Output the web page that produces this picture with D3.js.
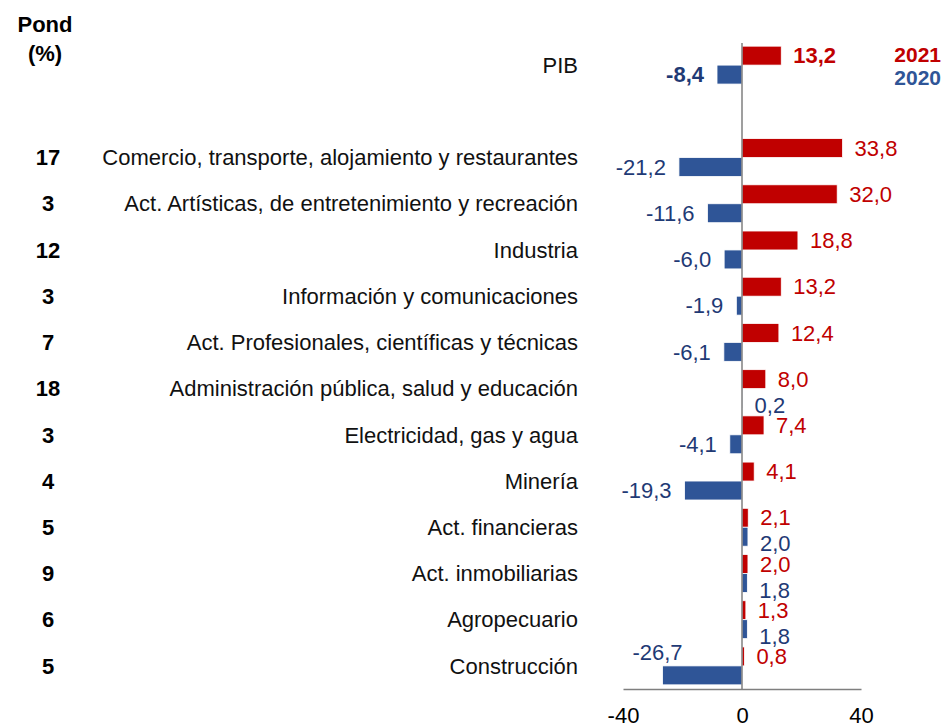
<!DOCTYPE html>
<html>
<head>
<meta charset="utf-8">
<script src="https://cdn.jsdelivr.net/npm/d3@7"></script>
<style>
  body { margin: 0; background: #fff; }
  svg { font-family: "Liberation Sans", Arial, sans-serif; }
</style>
</head>
<body>
<svg width="950" height="728"></svg>
<script>
const categories = [
    "PIB",
    "Comercio, transporte, alojamiento y restaurantes",
    "Act. Artísticas, de entretenimiento y recreación",
    "Industria",
    "Información y comunicaciones",
    "Act. Profesionales, científicas y técnicas",
    "Administración pública, salud y educación",
    "Electricidad, gas y agua",
    "Minería",
    "Act. financieras",
    "Act. inmobiliarias",
    "Agropecuario",
    "Construcción"
];
const weights = [null, 17, 3, 12, 3, 7, 18, 3, 4, 5, 9, 6, 5];
const values2021 = [13.2, 33.8, 32.0, 18.8, 13.2, 12.4, 8.0, 7.4, 4.1, 2.1, 2.0, 1.3, 0.8];
const values2020 = [-8.4, -21.2, -11.6, -6.0, -1.9, -6.1, 0.2, -4.1, -19.3, 2.0, 1.8, 1.8, -26.7];
const xTicks = [-40, 0, 40];

const red = "#C00000";
const blue = "#2F5597";
const navy = "#1F3A75";

const svg = d3.select("svg");
const locale = d3.formatLocale({ decimal: ",", thousands: ".", grouping: [3], currency: ["", ""], minus: "-" });
const fmt = locale.format(".1f");

// band slots: PIB, an empty gap, then the sectors
const slots = [categories[0], "__gap__", ...categories.slice(1)];

const x = d3.scaleLinear().domain([-40, 40]).range([623, 861]);
const y = d3.scaleBand().domain(slots).range([42, 689])
    .paddingInner(0.18).paddingOuter(0.09);
const sub = d3.scaleBand().domain(["2021", "2020"]).range([0, y.bandwidth()]);

const rows = categories.map((c, i) => ({
    cat: c, w: weights[i], v21: values2021[i], v20: values2020[i], pib: i === 0
}));

// header
svg.append("text").attr("x", 45).attr("y", 32).attr("text-anchor", "middle")
    .attr("font-size", 22).attr("font-weight", "bold").text("Pond");
svg.append("text").attr("x", 45).attr("y", 61).attr("text-anchor", "middle")
    .attr("font-size", 22).attr("font-weight", "bold").text("(%)");

// legend
svg.append("text").attr("x", 941).attr("y", 62).attr("text-anchor", "end")
    .attr("font-size", 21).attr("font-weight", "bold").attr("fill", red).text("2021");
svg.append("text").attr("x", 941).attr("y", 85).attr("text-anchor", "end")
    .attr("font-size", 21).attr("font-weight", "bold").attr("fill", blue).text("2020");

const mid = d => y(d.cat) + y.bandwidth() / 2;

// weights & category labels
svg.selectAll(".pond").data(rows.filter(d => d.w != null)).enter()
    .append("text")
    .attr("x", 48).attr("y", mid).attr("dy", "0.35em")
    .attr("text-anchor", "middle").attr("font-size", 22).attr("font-weight", "bold")
    .text(d => d.w);

svg.selectAll(".cat").data(rows).enter()
    .append("text")
    .attr("x", 578).attr("y", mid).attr("dy", "0.35em")
    .attr("text-anchor", "end").attr("font-size", 22).attr("fill", "#111")
    .text(d => d.cat);

// bars
const g = svg.append("g");
g.selectAll(".b21").data(rows).enter().append("rect")
    .attr("x", d => x(Math.min(0, d.v21)))
    .attr("y", d => y(d.cat) + sub("2021"))
    .attr("width", d => Math.abs(x(d.v21) - x(0)))
    .attr("height", sub.bandwidth())
    .attr("fill", red).attr("stroke", "#fff").attr("stroke-width", 0.8);

g.selectAll(".b20").data(rows).enter().append("rect")
    .attr("x", d => x(Math.min(0, d.v20)))
    .attr("y", d => y(d.cat) + sub("2020"))
    .attr("width", d => Math.abs(x(d.v20) - x(0)))
    .attr("height", sub.bandwidth())
    .attr("fill", blue).attr("stroke", "#fff").attr("stroke-width", 0.8);

// value labels
const half = sub.bandwidth() / 2;
svg.selectAll(".l21").data(rows).enter().append("text")
    .attr("x", d => d.v21 >= 0 ? x(d.v21) + 12 : x(d.v21) - 13)
    .attr("y", d => y(d.cat) + sub("2021") + half)
    .attr("dy", "0.35em")
    .attr("text-anchor", d => d.v21 >= 0 ? "start" : "end")
    .attr("font-size", 22).attr("font-weight", d => d.pib ? "bold" : null)
    .attr("fill", red)
    .text(d => fmt(d.v21));

svg.selectAll(".l20").data(rows).enter().append("text")
    .attr("x", d => {
        if (d.v20 >= 0) return x(d.v20) + 12;
        // last label sits above its long bar in the original
        if (d.cat === "Construcción") return x(d.v20) + 20;
        return x(d.v20) - 13;
    })
    .attr("y", d => {
        const c = y(d.cat) + sub("2020") + half;
        if (d.cat === "Construcción") return c - 23;
        return d.v20 >= 0 ? c + 7 : c;
    })
    .attr("dy", "0.35em")
    .attr("text-anchor", d => d.v20 >= 0 ? "start" : "end")
    .attr("font-size", 22).attr("font-weight", d => d.pib ? "bold" : null)
    .attr("fill", navy)
    .text(d => fmt(d.v20));

// zero line
svg.append("line")
    .attr("x1", x(0)).attr("x2", x(0)).attr("y1", 43).attr("y2", 689)
    .attr("stroke", "#7f7f7f").attr("stroke-width", 1.5);

// x axis
const axis = svg.append("g").attr("transform", "translate(0,689)")
    .call(d3.axisBottom(x).tickValues(xTicks).tickSize(0).tickPadding(18)
        .tickFormat(d => d));
axis.select(".domain").attr("stroke", "#7f7f7f").attr("stroke-width", 1.5);
axis.selectAll("text").attr("font-size", 22).attr("fill", "#000")
    .attr("font-family", "Liberation Sans, Arial, sans-serif");
</script>
</body>
</html>
